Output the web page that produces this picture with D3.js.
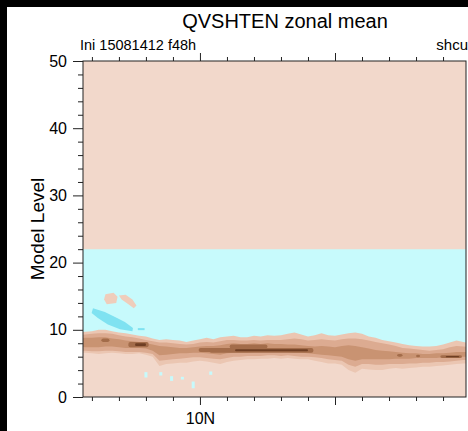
<!DOCTYPE html>
<html>
<head>
<meta charset="utf-8">
<script src="https://cdn.jsdelivr.net/npm/d3@7"></script>
<style>
	body{ margin:0; background:#fff; }
	svg{ display:block; font-family:"Liberation Sans", Arial, sans-serif; }
	.axis line{ stroke:#222; }
	.axis path{ display:none; }
	.axis text{ fill:#000; }
</style>
</head>
<body>
<svg id="chart" width="468" height="431"></svg>
<script>
	// latitude grid (deg N), every 0.25 deg
	const lats = [5.5,5.75,6,6.25,6.5,6.75,7,7.25,7.5,7.75,8,8.25,8.5,8.75,9,9.25,9.5,9.75,10,10.25,10.5,10.75,11,11.25,11.5,11.75,12,12.25,12.5,12.75,13,13.25,13.5,13.75,14,14.25,14.5,14.75,15,15.25,15.5,15.75,16,16.25,16.5,16.75,17,17.25,17.5,17.75,18,18.25,18.5,18.75,19,19.25,19.5,19.75,20];
	// model level edges of the shaded bands (light -> dark)
	const l1Top = [9.6,9.7,9.8,10.0,10.0,9.8,9.6,9.5,9.3,9.1,9.0,8.7,8.5,8.6,8.5,8.4,8.2,8.4,8.6,8.8,8.6,8.9,9.0,9.1,8.9,8.9,9.1,9.0,9.2,9.1,9.2,9.4,9.6,9.3,9.0,9.2,9.5,9.2,9.1,9.3,9.5,9.6,9.4,9.0,8.8,8.5,8.3,8.1,7.9,7.7,7.6,7.5,7.5,7.6,7.8,8.1,8.4,8.2,8.0];
	const l1Bot = [6.5,6.6,6.5,6.4,6.5,6.6,6.5,6.4,6.4,6.5,6.3,6.0,4.6,4.9,5.0,5.1,5.1,5.3,5.4,5.3,5.1,4.9,5.2,5.4,5.5,5.6,5.6,5.7,5.7,5.8,5.7,5.8,5.7,5.6,5.6,5.4,5.2,5.0,5.0,4.8,4.0,3.6,4.2,4.1,4.0,4.0,4.2,4.3,4.2,4.3,4.4,4.5,4.5,4.6,4.7,4.8,4.9,5.0,5.0];
	const l2Top = [9.2,9.3,9.4,9.5,9.5,9.4,9.2,9.0,8.9,8.7,8.5,8.3,8.1,8.1,8.0,7.9,7.8,7.9,8.1,8.2,8.1,8.3,8.5,8.5,8.4,8.4,8.5,8.4,8.5,8.5,8.5,8.6,8.7,8.6,8.4,8.5,8.6,8.5,8.4,8.6,8.7,8.7,8.6,8.4,8.2,8.0,7.8,7.6,7.3,7.2,7.1,7.0,6.9,7.0,7.1,7.4,7.6,7.5,7.4];
	const l2Bot = [6.9,6.9,6.8,6.8,6.9,6.9,6.8,6.7,6.7,6.7,6.6,6.4,5.4,5.5,5.6,5.7,5.8,5.9,5.9,5.8,5.7,5.6,5.8,6.0,6.0,6.1,6.1,6.1,6.2,6.2,6.1,6.2,6.1,6.0,6.0,5.9,5.8,5.6,5.5,5.4,4.8,4.5,4.9,4.9,4.8,4.8,4.9,4.9,4.9,5.0,5.0,5.1,5.1,5.2,5.2,5.3,5.4,5.5,5.5];
	const l3Top = [8.7,8.8,8.8,8.9,8.9,8.7,8.6,8.4,8.3,8.2,8.0,7.8,7.6,7.5,7.4,7.3,7.3,7.4,7.5,7.6,7.6,7.7,7.9,8.0,7.9,7.9,8.0,7.9,8.0,7.9,7.9,7.8,7.8,7.7,7.6,7.5,7.6,7.5,7.4,7.6,7.7,7.6,7.4,7.2,7.0,6.9,6.8,6.7,6.6,6.5,6.5,6.4,6.4,6.5,6.5,6.6,6.7,6.7,6.7];
	const l3Bot = [7.5,7.4,7.4,7.4,7.5,7.5,7.4,7.3,7.3,7.3,7.2,6.9,6.2,6.3,6.4,6.5,6.5,6.6,6.6,6.5,6.4,6.3,6.5,6.6,6.6,6.6,6.7,6.7,6.7,6.7,6.7,6.7,6.6,6.6,6.5,6.4,6.3,6.2,6.1,6.0,5.6,5.4,5.6,5.6,5.6,5.6,5.6,5.7,5.7,5.7,5.8,5.8,5.8,5.8,5.9,5.9,6.0,6.0,6.0];
	const cyanTop = 22;

	// dark cores: [lat start, lat end, level top, level bottom]
	const darkCores    = [[6.35,6.65,8.7,8.2],[7.35,8.1,8.2,7.4],[9.95,10.45,7.3,6.7],[10.35,14.2,7.3,6.6],[11.1,12.5,7.8,7.2],[17.3,17.5,6.4,6.0],[18.0,18.15,6.3,5.9],[18.9,19.7,6.2,5.8]];
	const darkestCores = [[7.6,8.0,8.0,7.6],[11.3,14.0,7.1,6.8],[19.1,19.6,6.1,5.9]];

	// small patches: [lat, level] outlines
	const cyanBlob  = [[6.04,13.2],[6.48,12.65],[6.93,11.76],[7.22,11.16],[7.52,10.27],[7.5,9.8],[7.04,10.1],[6.59,10.8],[6.22,11.76],[5.99,12.5]];
	const cyanDot   = [[7.7,10.25],[7.95,10.25],[7.95,9.95],[7.7,9.95]];
	const tanBlob1  = [[6.5,15.3],[6.8,15.5],[6.95,14.9],[6.9,14.0],[6.55,13.8],[6.45,14.5]];
	const tanBlob2  = [[7.0,15.1],[7.25,15.2],[7.5,14.5],[7.65,13.6],[7.55,13.2],[7.35,13.8],[7.1,14.5]];
	// light cyan specks below the band: [lat, level top, level bottom]
	const specks = [[8.0,3.7,2.9],[8.55,3.7,3.2],[8.95,3.1,2.4],[9.35,3.0,2.6],[9.75,2.3,1.3],[10.4,3.8,3.3]];

	const xTicksMinor = [6,7,8,9,11,12,13,14,16,17,18,19];
	const xTicksMajor = [10,15];
	const xLabels = {10:'10N'};
	const yTicksMajor = [0,10,20,30,40,50];
	const yTicksMinor = [2,4,6,8,12,14,16,18,22,24,26,28,32,34,36,38,42,44,46,48];

	const svg = d3.select('#chart');
	const W = 468, H = 431;
	const margin = {left:83, top:61, right:2, bottom:34};
	const x = d3.scaleLinear().domain([5.67,19.85]).range([margin.left, W-margin.right]);
	const y = d3.scaleLinear().domain([0,50]).range([H-margin.bottom, margin.top]);

	svg.append('rect').attr('width',W).attr('height',H).attr('fill','#fff');
	svg.append('rect').attr('width',W).attr('height',7).attr('fill','#000');
	svg.append('rect').attr('width',7).attr('height',H).attr('fill','#000');

	const px0 = x(5.67), py0 = y(50), pw = x(19.85)-x(5.67), ph = y(0)-y(50);
	svg.append('clipPath').attr('id','clip').append('rect')
		.attr('x',px0).attr('y',py0).attr('width',pw).attr('height',ph);
	const g = svg.append('g').attr('clip-path','url(#clip)');

	g.append('rect').attr('x',px0).attr('y',py0).attr('width',pw).attr('height',ph).attr('fill','#f2d8cb');

	const band = (top,bot)=> d3.area().x((d,i)=>x(lats[i])).y0((d,i)=>y(bot[i])).y1((d,i)=>y(top[i]))(lats);
	g.append('path').attr('d', d3.area().x((d,i)=>x(lats[i])).y0((d,i)=>y(l2Top[i])).y1(y(cyanTop))(lats)).attr('fill','#c7fafc');
	g.append('path').attr('d', band(l1Top,l1Bot)).attr('fill','#ebc6b2');
	g.append('path').attr('d', band(l2Top,l2Bot)).attr('fill','#dcab91');
	g.append('path').attr('d', band(l3Top,l3Bot)).attr('fill','#c99372');

	g.selectAll('.dark').data(darkCores).join('rect')
		.attr('x',d=>x(d[0])).attr('width',d=>x(d[1])-x(d[0]))
		.attr('y',d=>y(d[2])).attr('height',d=>y(d[3])-y(d[2]))
		.attr('rx',2).attr('fill','#a36c4a');
	g.selectAll('.darkest').data(darkestCores).join('rect')
		.attr('x',d=>x(d[0])).attr('width',d=>x(d[1])-x(d[0]))
		.attr('y',d=>y(d[2])).attr('height',d=>y(d[3])-y(d[2]))
		.attr('rx',1).attr('fill','#6e3e23');

	const outline = d3.line().x(d=>x(d[0])).y(d=>y(d[1])).curve(d3.curveLinearClosed);
	g.append('path').attr('d',outline(cyanBlob)).attr('fill','#7fe2f1');
	g.append('path').attr('d',outline(cyanDot)).attr('fill','#7fe2f1');
	g.append('path').attr('d',outline(tanBlob1)).attr('fill','#efcdbb');
	g.append('path').attr('d',outline(tanBlob2)).attr('fill','#efcdbb');
	g.selectAll('.speck').data(specks).join('rect')
		.attr('x',d=>x(d[0])-1.5).attr('width',3)
		.attr('y',d=>y(d[1])).attr('height',d=>y(d[2])-y(d[1]))
		.attr('fill','#c7fafc');

	// frame
	svg.append('rect').attr('x',px0).attr('y',py0).attr('width',pw).attr('height',ph)
		.attr('fill','none').attr('stroke','#222').attr('stroke-width',1);

	const fmtX = d=> xLabels[d] || '';
	svg.append('g').attr('class','axis').attr('transform',`translate(0,${y(0)})`)
		.call(d3.axisBottom(x).tickValues(xTicksMinor).tickSize(4).tickSizeOuter(0).tickFormat(''));
	svg.append('g').attr('class','axis').attr('transform',`translate(0,${y(0)})`)
		.call(d3.axisBottom(x).tickValues(xTicksMajor).tickSize(8).tickSizeOuter(0).tickPadding(8).tickFormat(fmtX))
		.selectAll('text').style('font-size','16px');
	svg.append('g').attr('class','axis').attr('transform',`translate(0,${y(50)})`)
		.call(d3.axisTop(x).tickValues(xTicksMinor).tickSize(4).tickSizeOuter(0).tickFormat(''));
	svg.append('g').attr('class','axis').attr('transform',`translate(0,${y(50)})`)
		.call(d3.axisTop(x).tickValues(xTicksMajor).tickSize(8).tickSizeOuter(0).tickFormat(''));
	svg.append('g').attr('class','axis').attr('transform',`translate(${px0},0)`)
		.call(d3.axisLeft(y).tickValues(yTicksMinor).tickSize(5).tickSizeOuter(0).tickFormat(''));
	svg.append('g').attr('class','axis').attr('transform',`translate(${px0},0)`)
		.call(d3.axisLeft(y).tickValues(yTicksMajor).tickSize(10).tickSizeOuter(0).tickPadding(6))
		.selectAll('text').style('font-size','16px');

	svg.append('text').attr('x',285).attr('y',28).attr('text-anchor','middle')
		.style('font-size','20px').text('QVSHTEN zonal mean');
	svg.append('text').attr('x',80).attr('y',50).style('font-size','14.5px').text('Ini 15081412 f48h');
	svg.append('text').attr('x',468).attr('y',50).attr('text-anchor','end').style('font-size','15px').text('shcu');
	svg.append('text').attr('transform',`translate(44,${(y(0)+y(50))/2}) rotate(-90)`).attr('text-anchor','middle')
		.style('font-size','19px').text('Model Level');
</script>
</body>
</html>
